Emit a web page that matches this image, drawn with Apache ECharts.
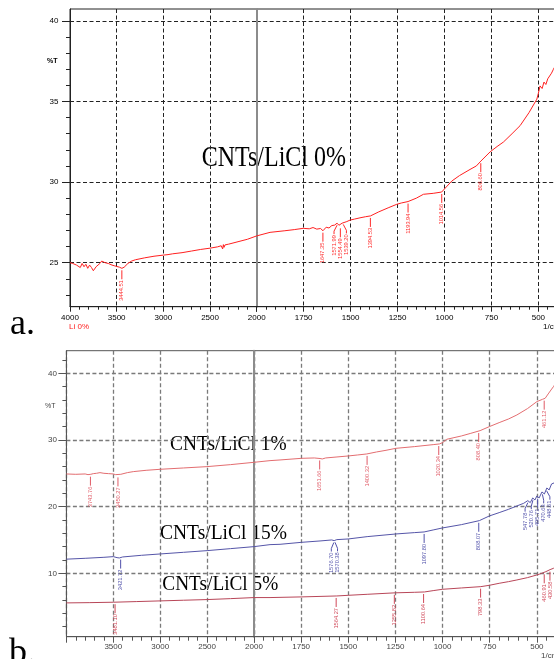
<!DOCTYPE html>
<html><head><meta charset="utf-8">
<script src="https://cdn.jsdelivr.net/npm/echarts@6/dist/echarts.min.js"></script>
<style>html,body{margin:0;padding:0;background:#fff;overflow:hidden}#c{width:554px;height:659px}</style>
</head><body><div id="c"></div>
<script>
// ---------------- DATA ----------------
// Panel a : CNTs/LiCl 0%  [wavenumber 1/cm, %T]
const spectrumA0 = [
 [4000,25.0],[3970,24.95],[3950,25.05],[3930,24.85],[3910,24.95],[3890,24.7],[3870,24.95],[3850,24.75],
 [3830,24.9],[3810,24.65],[3790,24.85],[3770,24.7],[3750,24.5],[3737,24.45],[3720,24.75],[3700,24.65],
 [3680,24.95],[3660,25.1],[3640,25.15],[3625,25.0],[3610,25.12],[3590,24.95],[3570,24.9],[3550,24.85],
 [3520,24.8],[3500,24.88],[3470,24.72],[3444,24.65],[3420,24.72],[3380,24.95],[3340,25.1],[3300,25.18],
 [3200,25.3],[3100,25.4],[3000,25.47],[2950,25.5],[2900,25.55],[2800,25.62],[2700,25.72],[2600,25.82],
 [2500,25.9],[2420,25.98],[2380,26.05],[2365,25.85],[2357,26.12],[2350,25.95],[2340,26.1],[2330,26.08],
 [2300,26.15],[2200,26.3],[2100,26.45],[2000,26.66],[1929,26.88],[1850,26.98],[1800,27.05],[1752,27.13],
 [1720,27.1],[1700,27.18],[1680,27.08],[1670,27.2],[1660,27.12],[1647,26.98],[1630,27.2],[1615,27.15],
 [1600,27.3],[1585,27.33],[1572,27.45],[1562,27.32],[1554,27.25],[1545,27.45],[1539,27.5],[1520,27.55],
 [1503,27.64],[1480,27.7],[1450,27.78],[1420,27.85],[1394,27.9],[1350,28.15],[1300,28.4],[1254,28.62],
 [1230,28.7],[1194,28.79],[1150,29.0],[1112,29.24],[1060,29.3],[1015,29.38],[990,29.7],[961,30.06],
 [920,30.4],[864,30.78],[830,31.0],[806,31.3],[757,31.87],[720,32.2],[686,32.48],[640,33.0],
 [597,33.5],[550,34.3],[508,35.14],[500,35.5],[491,35.96],[480,35.8],[470,36.2],[460,36.05],
 [450,36.4],[440,36.3],[430,36.75],[420,36.99],[410,37.2]
];
const peaksA0 = ['3444.51','1647.35','1571.99','1554.49','1539.20','1394.53','1193.94','1014.56','806.60'];

// Panel b : CNTs/LiCl 1%, 15%, 5%
const spectrumB1 = [
 [4000,24.9],[3900,24.85],[3800,24.9],[3770,24.8],[3756,24.62],[3740,24.85],[3713,24.95],[3680,25.0],
 [3642,25.1],[3600,25.0],[3550,24.95],[3500,24.9],[3475,24.8],[3457,24.65],[3420,24.85],[3350,25.1],
 [3287,25.25],[3150,25.45],[3002,25.6],[2750,25.8],[2502,26.0],[2250,26.3],[2000,26.65],[1915,26.9],
 [1862,27.0],[1747,27.25],[1680,27.3],[1650,27.22],[1638,27.15],[1620,27.3],[1560,27.45],[1500,27.6],
 [1450,27.75],[1402,27.9],[1350,28.2],[1300,28.45],[1247,28.75],[1150,29.0],[1050,29.3],[1017,29.4],
 [1000,29.6],[978,30.1],[900,30.6],[850,31.0],[801,31.4],[752,32.0],[700,32.6],[650,33.15],
 [606,33.75],[550,34.7],[500,35.75],[470,36.1],[456,36.25],[440,36.9],[425,37.5],[412,38.0],[405,38.3]
];
const peaksB1 = ['3743.76','3450.27','1651.66','1400.32','1020.34','808.40','461.12'];

const spectrumB15 = [
 [4000,12.12],[3800,12.25],[3600,12.4],[3500,12.5],[3460,12.35],[3436,12.3],[3400,12.45],[3200,12.7],
 [3000,12.9],[2750,13.15],[2500,13.4],[2250,13.7],[2000,14.0],[1915,14.3],[1862,14.35],[1747,14.65],
 [1650,14.85],[1588,15.0],[1575,14.9],[1561,15.05],[1500,15.15],[1400,15.5],[1247,15.9],[1150,16.1],
 [1098,16.2],[1050,16.5],[1001,16.8],[900,17.3],[805,17.9],[752,18.6],[700,19.1],[650,19.6],
 [606,20.1],[570,20.5],[561,20.3],[548,20.9],[535,20.6],[522,21.3],[510,21.0],[500,21.6],
 [488,21.3],[473,22.2],[460,21.9],[447,22.8],[435,22.5],[422,23.4],[412,23.1],[405,23.6]
];
const peaksB15 = ['3421.72','1576.70','1570.38','1097.80','808.07','547.78','520.76','495.71','470.63','448.61'];

const spectrumB5 = [
 [4000,5.56],[3750,5.6],[3500,5.66],[3250,5.76],[3000,5.86],[2750,5.96],[2500,6.06],[2250,6.2],
 [2000,6.36],[1915,6.36],[1747,6.46],[1561,6.6],[1500,6.7],[1400,6.85],[1252,7.07],[1150,7.15],
 [1096,7.2],[1050,7.4],[1001,7.6],[900,7.8],[797,8.0],[752,8.2],[700,8.5],[650,8.75],
 [606,9.0],[550,9.35],[500,9.75],[479,9.95],[452,10.25],[430,10.55],[412,10.75],[405,10.85]
];
const peaksB5 = ['3481.10','1564.27','1255.82','1100.64','798.33','460.91','430.58'];

// axis ticks
const yTicksA = [25, 30, 35, 40];
const yMinorA = [23,24,26,27,28,29,31,32,33,34,36,37,38,39];
const yTicksB = [10, 20, 30, 40];
const yMinorB = [2,4,6,8,12,14,16,18,22,24,26,28,32,34,36,38,42];

// ---------------- BUILD ----------------
const SANS = 'Liberation Sans, Arial, sans-serif';
const SERIF = 'Liberation Serif, Times New Roman, serif';
const grids = [], xAxes = [], yAxes = [], series = [];

function curveAt(curve, w) {
  for (let i = 0; i < curve.length - 1; i++) {
    const a = curve[i], b = curve[i + 1];
    if ((w <= a[0] && w >= b[0])) {
      const t = (a[0] - w) / (a[0] - b[0]);
      return a[1] + (b[1] - a[1]) * t;
    }
  }
  return curve[curve.length - 1][1];
}

const labelMap = new Map();
function peakRender(vals, curve, color) {
  return function (params, api) {
    const pts = vals.map(w => api.coord([w, curveAt(curve, w)]));
    const tx = pts.map(p => p[0]);
    const order = tx.map((x, i) => i).sort((a, b) => tx[a] - tx[b]);
    const adj = tx.slice();
    const gap = 6.2;
    for (let k = 1; k < order.length; k++) {
      const i = order[k], j = order[k - 1];
      if (adj[i] - adj[j] < gap) adj[i] = adj[j] + gap;
    }
    let k = 0;
    while (k < order.length) {
      let e = k;
      while (e + 1 < order.length && adj[order[e + 1]] - adj[order[e]] <= gap + 0.01) e++;
      if (e > k) {
        let shift = 0;
        for (let m = k; m <= e; m++) shift += adj[order[m]] - tx[order[m]];
        shift /= (e - k + 1);
        for (let m = k; m <= e; m++) adj[order[m]] -= shift;
      }
      k = e + 1;
    }
    const i = params.dataIndex;
    const p = pts[i], x2 = adj[i];
    const pl = Math.abs(x2 - p[0]) > 0.5
      ? [[p[0], p[1] + 2], [x2, p[1] + 8], [x2, p[1] + 11]]
      : [[p[0], p[1] + 2], [p[0], p[1] + 11]];
    return {
      type: 'group',
      children: [
        { type: 'polyline', shape: { points: pl }, style: { stroke: color, lineWidth: 1, fill: null } },
        { type: 'text', x: x2, y: p[1] + 12, rotation: Math.PI / 2,
          style: { text: labelMap.get(vals)[i], fill: color, fontSize: 5.7, fontFamily: SANS,
                   align: 'right', verticalAlign: 'middle' } }
      ]
    };
  };
}

function addPanel(p) {
  const gL = grids.length;
  const dash = { type: [4, 2.5], color: p.gridColor, width: p.gridWidth };
  const gbase = { outerBoundsMode: 'none', containLabel: false };
  grids.push(Object.assign({ left: p.leftX, top: p.top, width: p.splitX - p.leftX, height: p.height, show: true,
               borderColor: p.axisColor, borderWidth: 1, backgroundColor: 'transparent' }, gbase));
  grids.push(Object.assign({ left: p.splitX, top: p.top, width: p.rightEndX - p.splitX, height: p.height, show: true,
               borderColor: p.axisColor, borderWidth: 1, backgroundColor: 'transparent' }, gbase));
  grids.push(Object.assign({ left: p.leftX, top: p.top, width: p.splitX - p.leftX, height: p.height, show: false }, gbase));
  const lab = { fontSize: 8, fontFamily: SANS, color: p.labelColor, margin: p.xLabelMargin };
  xAxes.push({ gridIndex: gL, type: 'value', inverse: true, min: 2000, max: 4000, interval: 500,
    axisLine: { show: true, lineStyle: { color: p.axisColor, width: 1 } },
    axisTick: { show: true, length: p.xTickLen, lineStyle: { color: p.axisColor } },
    minorTick: { show: true, splitNumber: 5, length: p.xMinorLen, lineStyle: { color: p.axisColor } },
    axisLabel: Object.assign({}, lab, { formatter: v => (v === 4000 && !p.show4000) ? '' : String(v) }),
    splitLine: { show: true, lineStyle: dash }, minorSplitLine: { show: false } });
  xAxes.push({ gridIndex: gL + 1, type: 'value', inverse: true, min: 250, max: 2000, interval: 250,
    axisLine: { show: true, lineStyle: { color: p.axisColor, width: 1 } },
    axisTick: { show: true, length: p.xTickLen, lineStyle: { color: p.axisColor } },
    minorTick: { show: true, splitNumber: 5, length: p.xMinorLen, lineStyle: { color: p.axisColor } },
    axisLabel: Object.assign({}, lab, { formatter: v => (v === 2000 || v === 250) ? '' : String(v) }),
    splitLine: { show: true, lineStyle: dash }, minorSplitLine: { show: false } });
  xAxes.push({ gridIndex: gL + 2, type: 'value', show: false, min: 2000, max: 4000 });
  yAxes.push({ gridIndex: gL, type: 'value', position: 'left', min: p.yMin, max: p.yMax,
    axisLine: { show: true, lineStyle: { color: p.axisColor, width: 1 } },
    axisTick: { show: true, length: 8, customValues: p.yTicks, lineStyle: { color: p.axisColor } },
    axisLabel: { show: true, customValues: p.yTicks, fontSize: 8, fontFamily: SANS, color: p.labelColor, margin: p.yLabelMargin },
    splitLine: { show: true, lineStyle: dash } });
  yAxes.push({ gridIndex: gL + 1, type: 'value', position: 'left', min: p.yMin, max: p.yMax,
    axisLine: { show: true, lineStyle: { color: '#8c8c8c', width: 2 } },
    axisTick: { show: false, customValues: p.yTicks },
    axisLabel: { show: false, customValues: p.yTicks },
    splitLine: { show: true, lineStyle: dash } });
  yAxes.push({ gridIndex: gL + 2, type: 'value', position: 'left', min: p.yMin, max: p.yMax,
    axisLine: { show: false },
    axisTick: { show: true, length: 4, customValues: p.yMinor, lineStyle: { color: p.axisColor } },
    axisLabel: { show: false, customValues: p.yMinor },
    splitLine: { show: false } });

  p.spectra.forEach(s => {
    const left = s.data.filter(d => d[0] >= 2000);
    const right = s.data.filter(d => d[0] <= 2000);
    [[left, gL], [right, gL + 1]].forEach(([dat, gi]) => {
      series.push({ type: 'line', xAxisIndex: gi, yAxisIndex: gi, data: dat, showSymbol: false,
        lineStyle: { color: s.color, width: s.width || 1 }, itemStyle: { color: s.color },
        animation: false, silent: true, z: 3 });
    });
    const pv = s.peaks.map(Number);
    [[pv.filter(w => w > 2000), s.peaks.filter(t => Number(t) > 2000), gL],
     [pv.filter(w => w <= 2000), s.peaks.filter(t => Number(t) <= 2000), gL + 1]].forEach(([vals, texts, gi]) => {
      if (!vals.length) return;
      labelMap.set(vals, texts);
      series.push({ type: 'custom', xAxisIndex: gi, yAxisIndex: gi, coordinateSystem: 'cartesian2d',
        data: vals.map(w => [w, curveAt(s.data, w)]), renderItem: peakRender(vals, s.data, s.peakColor),
        animation: false, silent: true, z: 4 });
    });
  });
}

addPanel({ top: 9, height: 297.7, leftX: 70, splitX: 256.7, rightEndX: 585.3, yMin: 22.27, yMax: 40.73,
  yTicks: yTicksA, yMinor: yMinorA, axisColor: '#222', gridColor: '#222', gridWidth: 1, labelColor: '#000',
  show4000: true, xLabelMargin: 7, yLabelMargin: 11.5, xTickLen: 5, xMinorLen: 3,
  spectra: [{ data: spectrumA0, color: '#ff2020', peaks: peaksA0, peakColor: '#ff2a2a' }] });

addPanel({ top: 350.7, height: 286, leftX: 66.4, splitX: 254, rightEndX: 584, yMin: 0.49, yMax: 43.39,
  yTicks: yTicksB, yMinor: yMinorB, axisColor: '#555', gridColor: '#7a7a7a', gridWidth: 1.3, labelColor: '#444',
  show4000: false, xLabelMargin: 6.5, yLabelMargin: 9.5, xTickLen: 6, xMinorLen: 4,
  spectra: [
    { data: spectrumB1, color: '#e36d70', peaks: peaksB1, peakColor: '#e05a66' },
    { data: spectrumB15, color: '#5555a8', peaks: peaksB15, peakColor: '#5050aa' },
    { data: spectrumB5, color: '#b84658', peaks: peaksB5, peakColor: '#d04858' }
  ] });

const graphics = [
  { type: 'text', x: 201.7, y: 158.5, scaleY: 1.2, style: { text: 'CNTs/LiCl 0%', fontSize: 24, fontFamily: SERIF, fill: '#000', verticalAlign: 'middle' } },
  { type: 'text', x: 170, y: 444.5, scaleY: 1.12, style: { text: 'CNTs/LiCl 1%', fontSize: 19.4, fontFamily: SERIF, fill: '#000', verticalAlign: 'middle' } },
  { type: 'text', x: 160, y: 533, scaleY: 1.12, style: { text: 'CNTs/LiCl 15%', fontSize: 19.5, fontFamily: SERIF, fill: '#000', verticalAlign: 'middle' } },
  { type: 'text', x: 162.3, y: 584.2, scaleY: 1.12, style: { text: 'CNTs/LiCl 5%', fontSize: 19.3, fontFamily: SERIF, fill: '#000', verticalAlign: 'middle' } },
  { type: 'text', x: 10, y: 325, style: { text: 'a.', fontSize: 36, fontFamily: SERIF, fill: '#000', verticalAlign: 'middle' } },
  { type: 'text', x: 9, y: 654, style: { text: 'b.', fontSize: 36, fontFamily: SERIF, fill: '#000', verticalAlign: 'middle' } },
  { type: 'text', x: 47, y: 61, style: { text: '%T', fontSize: 7, fontWeight: 'bold', fontFamily: SANS, fill: '#000', verticalAlign: 'middle' } },
  { type: 'text', x: 45, y: 406, style: { text: '%T', fontSize: 7, fontFamily: SANS, fill: '#444', verticalAlign: 'middle' } },
  { type: 'text', x: 69, y: 327, style: { text: 'Li 0%', fontSize: 8, fontFamily: SANS, fill: '#ff2020', verticalAlign: 'middle' } },
  { type: 'text', x: 543, y: 327, style: { text: '1/cm', fontSize: 8, fontFamily: SANS, fill: '#000', verticalAlign: 'middle' } },
  { type: 'text', x: 541, y: 656, style: { text: '1/cm', fontSize: 8, fontFamily: SANS, fill: '#444', verticalAlign: 'middle' } }
];

const chart = echarts.init(document.getElementById('c'), null, { renderer: 'canvas' });
chart.setOption({
  animation: false,
  backgroundColor: '#fff',
  grid: grids, xAxis: xAxes, yAxis: yAxes, series: series,
  graphic: graphics
});
</script>
</body></html>
